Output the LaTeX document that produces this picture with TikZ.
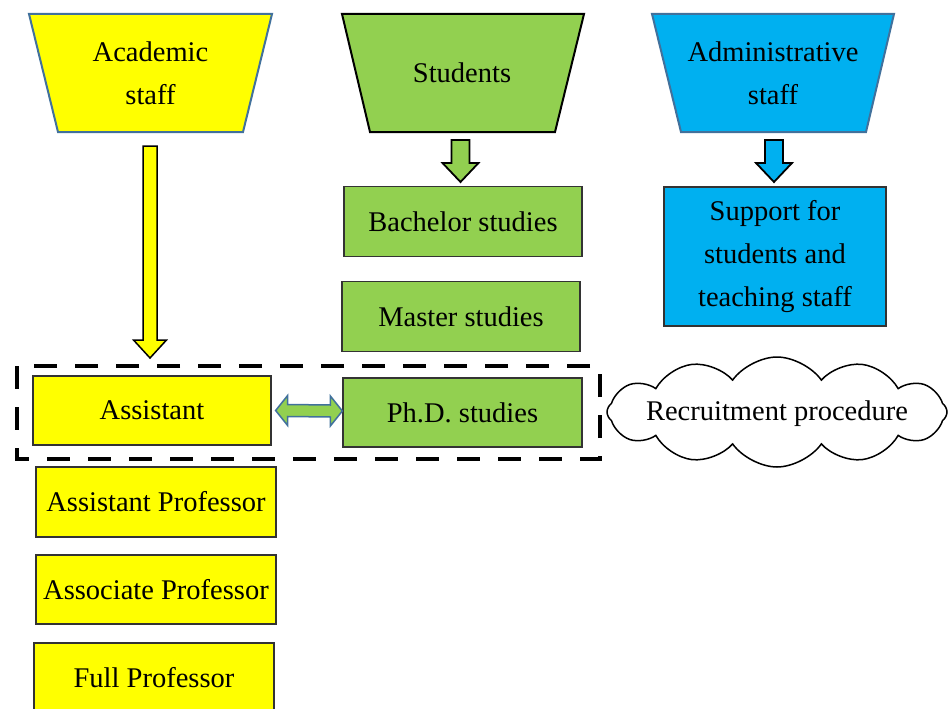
\documentclass[tikz,border=0pt]{standalone}
\usepackage{fontspec}
\setmainfont{Liberation Serif}
\usetikzlibrary{shapes.symbols,calc}
\definecolor{yel}{HTML}{FFFF00}
\definecolor{grn}{HTML}{92D050}
\definecolor{cyn}{HTML}{00B0F0}
\definecolor{bordblue}{HTML}{41719C}
\definecolor{boxbord}{HTML}{333333}
\newcommand\downblock[7]{%
  \draw[#7] (#1-#4,#2) -- (#1+#4,#2) -- (#1+#4,#3-#6) -- (#1+#5,#3-#6) -- (#1,#3)
    -- (#1-#5,#3-#6) -- (#1-#4,#3-#6) -- cycle;}
\tikzset{
  txt/.style={font=\fontsize{28.5}{43}\selectfont, align=center, inner sep=0pt},
  boxy/.style={txt, draw=boxbord, line width=1.3pt, fill=yel, minimum width=238pt, minimum height=69pt},
  boxg/.style={txt, draw=boxbord, line width=1.3pt, fill=grn, minimum width=238pt, minimum height=70pt},
  boxc/.style={txt, draw=boxbord, line width=1.3pt, fill=cyn, minimum width=222pt, minimum height=139pt},
  trap/.style={line width=2pt, line join=miter},
}
\begin{document}
\begin{tikzpicture}[x=1pt,y=-1pt]
\useasboundingbox (0,0) rectangle (948,709);
% trapezoids
\draw[trap, draw=bordblue, fill=yel] (29,14) -- (272,14) -- (243,132) -- (58,132) -- cycle;
\node[txt] (acad) at (150.5,73) {Academic\\staff};
\draw[trap, draw=black, fill=grn] (342,14) -- (584,14) -- (555,132) -- (370,132) -- cycle;
\node[txt] (stud) at (462,73) {Students};
\draw[trap, draw=bordblue, fill=cyn] (652,14) -- (894,14) -- (866,132) -- (681,132) -- cycle;
\node[txt] (admin) at (773,73) {Administrative\\staff};
% block arrows
\downblock{150}{146}{358}{7}{16.5}{18}{draw=black, line width=1.5pt, fill=yel, line join=miter}
\downblock{460.5}{140}{182}{9}{18}{19}{draw=black, line width=1.8pt, fill=grn, line join=miter}
\downblock{774}{140}{182}{9}{18}{19}{draw=black, line width=1.8pt, fill=cyn, line join=miter}
% boxes
\node[boxg] (bach) at (463,221.5) {Bachelor studies};
\node[boxg] (mast) at (461,316.5) {Master studies};
\node[boxg, minimum width=239pt, minimum height=69pt] (phd) at (462.5,412.5) {Ph.D. studies};
\node[boxc] (supp) at (775,256.5) {Support for\\students and\\teaching staff};
\node[boxy] (asst) at (152,410.5) {Assistant};
\node[boxy, minimum width=240pt, minimum height=70pt] (aprof) at (156,502) {Assistant Professor};
\node[boxy, minimum width=240pt, minimum height=69pt] (assoc) at (156,589.5) {Associate Professor};
\node[boxy, minimum width=240pt, minimum height=69pt] (full) at (154,677.5) {Full Professor};
% dashed group
\draw[line width=4.5pt, dash pattern=on 23pt off 18pt] (17,366) rectangle (600,459);
% double arrow
\coordinate (dl) at ($(asst.east)+(4,0)$);
\coordinate (dr) at ($(phd.west)+(0,-1.5)$);
\draw[draw=bordblue, line width=1.5pt, fill=grn, line join=miter]
  (dl) -- ++(12,-15) -- ++(0,9) -- ($(dr)+(-12,-6)$) -- ++(0,-9)
  -- (dr) -- ++(-12,15) -- ++(0,-9) -- ($(dl)+(12,6)$) -- ++(0,9) -- cycle;
% cloud
\node[cloud, cloud puffs=12, cloud puff arc=110, aspect=3.1, draw=black, line width=1.5pt, fill=white,
  minimum width=340pt, minimum height=110pt, inner sep=0pt] (cloud) at (777,412) {};
\node[txt] (cloudtxt) at ($(cloud.center)+(0,2)$) {Recruitment procedure};
\end{tikzpicture}
\end{document}
